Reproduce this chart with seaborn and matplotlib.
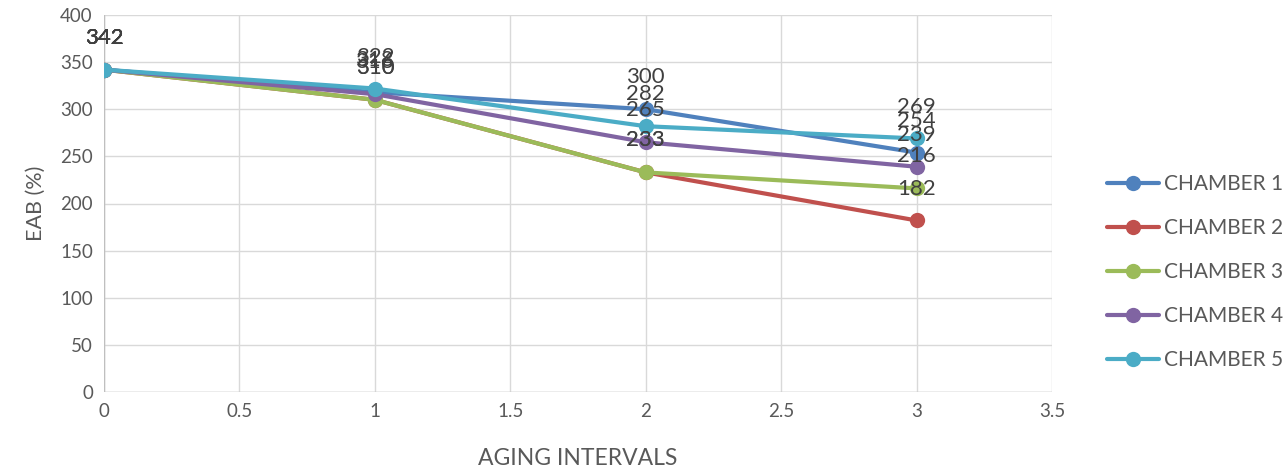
import matplotlib
matplotlib.use("Agg")
import matplotlib.pyplot as plt
import seaborn as sns
import pandas as pd

intervals = [0, 1, 2, 3]
chamber1 = [342, 318, 300, 254]
chamber2 = [342, 310, 233, 182]
chamber3 = [342, 310, 233, 216]
chamber4 = [342, 316, 265, 239]
chamber5 = [342, 322, 282, 269]
series_names = ["CHAMBER 1", "CHAMBER 2", "CHAMBER 3", "CHAMBER 4", "CHAMBER 5"]
series_values = [chamber1, chamber2, chamber3, chamber4, chamber5]
colors = ["#4F81BD", "#C0504D", "#9BBB59", "#8064A2", "#4BACC6"]

rows = []
for name, vals in zip(series_names, series_values):
    for x, v in zip(intervals, vals):
        rows.append({"AGING INTERVALS": x, "EAB (%)": v, "series": name})
df = pd.DataFrame(rows)

sns.set_theme(style="whitegrid")
plt.rcParams["font.family"] = ["Lato", "DejaVu Sans"]

fig = plt.figure(figsize=(12.87, 4.75), dpi=100)
ax = fig.add_axes([104/1287, 1-392/475, (1052-104)/1287, (392-15)/475])

sns.lineplot(data=df, x="AGING INTERVALS", y="EAB (%)", hue="series",
             palette=colors, marker="o", markersize=11, markeredgewidth=0,
             linewidth=3, ax=ax, legend=True)

for name, vals, c in zip(series_names, series_values, colors):
    for x, v in zip(intervals, vals):
        ax.annotate(str(v), (x, v), xytext=(0, 23), textcoords="offset points",
                    ha="center", va="center", fontsize=16, color="#404040")

ax.set_xlim(0, 3.5)
ax.set_ylim(0, 400)
ax.set_xticks([0, 0.5, 1, 1.5, 2, 2.5, 3, 3.5])
ax.set_xticklabels(["0", "0.5", "1", "1.5", "2", "2.5", "3", "3.5"])
ax.set_yticks(range(0, 401, 50))
ax.tick_params(axis="both", labelsize=13.5, colors="#595959", length=0, pad=8)
ax.grid(True, color="#D9D9D9", linewidth=1)
for s in ax.spines.values():
    s.set_visible(False)
ax.axvline(0, color="#BFBFBF", linewidth=1, zorder=1)
ax.axhline(0, color="#BFBFBF", linewidth=1, zorder=1)
ax.set_xlabel("AGING INTERVALS", fontsize=16.5, color="#595959", labelpad=20)
ax.set_ylabel("EAB (%)", fontsize=15.5, color="#595959", labelpad=10)
ax.set_facecolor("white")

handles, labels = ax.get_legend_handles_labels()
leg = ax.legend(handles, labels, loc="center left", bbox_to_anchor=(1.058, 0.318),
                frameon=False, fontsize=15, labelspacing=1.15, handlelength=2.5,
                handletextpad=0.25, borderaxespad=0, borderpad=0)
for t in leg.get_texts():
    t.set_color("#595959")

fig.savefig("out.png", dpi=100, facecolor="white")
